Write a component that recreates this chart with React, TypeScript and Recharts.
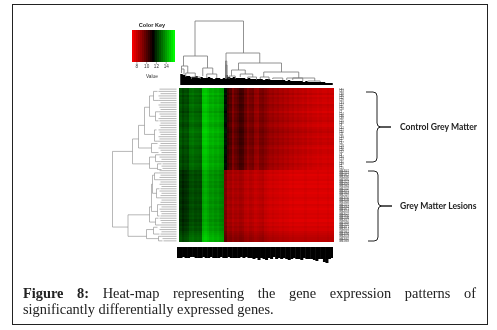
import React from "react";
import {
  Area,
  BarChart,
  Bar,
  ComposedChart,
  Line,
  Scatter,
  ScatterChart,
  XAxis,
  YAxis,
} from "recharts";

// expression per column (colour key units), control rows then lesion rows
const controlColumns = [
  12.7, 12.4, 12.6, 12.5, 13.1, 13.2, 13.0, 13.0, 12.9, 14.6, 14.7, 14.5, 14.2, 14.3, 14.1, 14.2,
  14.0, 13.9, 11.5, 10.3, 9.9, 9.1, 9.6, 9.8, 10.2, 10.1, 9.5, 9.0, 9.3, 9.4, 8.8, 8.7,
  9.2, 9.3, 9.0, 8.8, 8.6, 8.7, 8.5, 8.6, 8.4, 8.5, 8.3, 8.4, 8.2, 8.3, 8.1, 8.2,
  8.1, 8.0, 8.1, 7.9, 8.0, 7.9, 7.9, 7.8, 7.9, 7.8, 7.8, 7.9, 7.8, 7.8,
];
const lesionColumns = [
  12.2, 11.9, 12.1, 12.2, 12.6, 12.7, 12.5, 12.6, 12.5, 14.1, 14.3, 14.1, 13.8, 13.9, 13.7, 13.8,
  13.6, 13.5, 9.2, 8.5, 8.6, 8.3, 8.5, 8.4, 8.6, 8.5, 8.2, 8.1, 8.3, 8.2, 8.0, 8.1,
  8.2, 8.3, 8.0, 7.9, 7.8, 7.9, 7.8, 7.8, 7.7, 7.8, 7.7, 7.7, 7.6, 7.7, 7.6, 7.6,
  7.6, 7.6, 7.7, 7.6, 7.6, 7.6, 7.6, 7.7, 7.6, 7.6, 7.6, 7.7, 7.6, 7.6,
];
const controlRowShift = [
  0.1, 0, 0.2, -0.1, 0.1, 0, -0.1, 0.2, 0.1, 0, -0.2, 0.1, 0, 0.1, 0.2, 0, -0.1, 0.1,
  0.2, 0.3, 0.1, 0, 0.2, 0.1, 0.2, 0, -0.1, 0.1, 0.1, 0, -0.1, 0, -0.1, 0.1, 0, -0.1,
];
const lesionRowShift = [
  0, 0.1, -0.1, 0, 0.1, -0.1, 0, -0.1, 0.1, 0, -0.1, 0, 0.1, 0, -0.1, 0.1,
  0, -0.1, 0, 0.1, 0, 0.1, -0.1, 0.1, 0, 0.2, 0.1, 0.3, 0.4, 0.5, 0.6, 0.5,
];
const rowLabels = [
  "C41", "C43", "C38", "C46", "C12", "C29", "C33", "C17", "C51", "C20", "C7", "C24",
  "C36", "C48", "C15", "C30", "C9", "C42", "C27", "C54", "C11", "C39", "C22", "C5",
  "C47", "C18", "C34", "C26", "C52", "C8", "C44", "C13", "C31", "C49", "C2", "C25",
  "GM2041", "GM2113", "GM1972", "GM2086", "GM1995", "GM2127", "GM2038", "GM1964",
  "GM2102", "GM2075", "GM1983", "GM2119", "GM2056", "GM2009", "GM1948", "GM2131",
  "GM2064", "GM1977", "GM2093", "GM2022", "GM1956", "GM2108", "GM2047", "GM1989",
  "GM2125", "GM2071", "GM2014", "GM1961", "GM2098", "GM2033", "GM2082", "GM1969",
];

const keySteps = [
  7, 7.4, 7.8, 8.2, 8.6, 9, 9.4, 9.8, 10.2, 10.6, 11, 11.4, 11.8, 12.2, 12.6, 13, 13.4, 13.8, 14.2,
  14.6, 15, 15.4,
];
const keyTicks = [8, 10, 12, 14];

// [left/top child, right/bottom child, first child height, second child height, merge height]
const columnMerges = [
  [5.9, 25.3, 29, 32, 64],
  [1.3, 10.9, 19, 17, 29],
  [9, 13, 9, 11, 17],
  [10.6, 14.6, 7, 7, 11],
  [0.5, 3, 16, 12, 19],
  [2.2, 6, 8, 8, 12],
  [0.5, 1.5, 12, 10, 16],
  [4.5, 8, 6, 6, 8],
  [18.3, 31.8, 6, 22, 32],
  [18.1, 18.6, 6, 6, 24],
  [18.3, 18.7, 7, 7, 20],
  [23.3, 40.5, 15, 13, 22],
  [33.4, 47.4, 8, 7, 13],
  [42.6, 53.8, 5, 4, 7],
  [20.5, 26, 9, 11, 15],
  [24, 29, 8, 8, 11],
  [19.5, 22, 6, 6, 9],
  [27, 30.5, 6, 5, 8],
  [32, 35.5, 6, 5, 8],
  [37, 41, 6, 5, 7],
  [45, 49, 5, 4, 7],
  [51, 56, 3, 3, 4],
];
const leafMass = [
  11, 10, 9, 9, 8, 8, 9, 7, 8, 7, 7, 8, 7, 6, 7, 7, 6, 7, 10, 8, 7, 8, 7, 7, 7, 7, 6, 7, 6, 6, 6, 6,
  6, 5, 6, 6, 5, 5, 5, 5, 5, 5, 4, 5, 4, 4, 4, 4, 4, 3, 4, 3, 3, 3, 3, 3, 3, 3, 2, 2, 2, 2,
];
const rowMerges = [
  [27.5, 60.9, 44, 48.5, 64],
  [22, 33, 38, 27, 44],
  [16, 26, 32, 25, 38],
  [8, 20, 27, 22, 32],
  [3, 12, 23, 21, 27],
  [1, 5, 19, 18, 23],
  [10, 14, 18, 18, 21],
  [18, 23, 20, 19, 22],
  [24, 28, 19, 18, 25],
  [30, 35, 21, 19, 27],
  [29, 32, 16, 16, 21],
  [33, 35.5, 15, 15, 19],
  [55.5, 65, 27, 30, 48.5],
  [52, 58.7, 25, 21, 27],
  [42, 54, 24, 19, 25],
  [38, 46, 22, 20, 24],
  [37, 40, 18, 18, 22],
  [44, 48, 17, 17, 20],
  [51, 56, 17, 17, 19],
  [57, 60, 18, 17, 21],
  [62, 66, 23, 18, 30],
  [61, 64, 19, 17, 23],
  [65, 67, 15, 14, 18],
];
const rowLeafDepths = [
  17, 18, 16, 18, 17, 18, 16, 18, 17, 16, 18, 17, 16, 18, 17, 16, 17, 16, 18, 17, 16, 18, 17, 19, 16,
  17, 18, 16, 15, 16, 17, 15, 16, 14, 15, 14, 17, 18, 16, 17, 18, 16, 17, 15, 16, 17, 15, 16, 17, 15,
  16, 17, 15, 17, 16, 15, 16, 17, 16, 15, 17, 16, 17, 15, 16, 15, 14, 13,
];
// the black block under the heat map is overprinted gene names
const geneLabelLengths = [
  11, 11, 10, 11, 11, 10, 10, 11, 11, 11, 10, 11, 11, 10, 11, 11, 11, 10, 11, 11, 10, 11, 11, 11, 11,
  10, 11, 10, 11, 11, 12, 11, 13, 11, 12, 13, 11, 12, 10, 12, 11, 12, 11, 12, 13, 12, 11, 12, 12, 13,
  11, 12, 12, 12, 13, 14, 12, 12, 15, 16, 12, 11,
];

const rowShift = [...controlRowShift, ...lesionRowShift];
const heatCells = rowShift.flatMap((shift, row) => {
  const profile = row < controlRowShift.length ? controlColumns : lesionColumns;
  return profile.map((value, col) => ({ col, row, value: value + shift }));
});
const rowIndexes = rowLabels.map((_, i) => i);
const keyCells = keySteps.map((value) => ({ value: value + 0.2, y: 0.5 }));
const massData = leafMass.map((height, leaf) => ({ leaf, height }));
const geneData = geneLabelLengths.map((length, gene) => ({ gene, length }));

function keyColour(v: number) {
  if (v < 11.3) return `rgb(${Math.min(255, Math.round((255 * (11.3 - v)) / 4.3))},0,0)`;
  return `rgb(0,${Math.min(255, Math.round((255 * (v - 11.3)) / 4.4))},0)`;
}

function treeColumns(merges: number[][]) {
  return merges.flatMap(([a, b, ha, hb, h]) => [
    { leaf: a, height: ha },
    { leaf: a, height: h },
    { leaf: b, height: h },
    { leaf: b, height: hb },
    { leaf: b, height: null },
  ]);
}

function treeRows(merges: number[][]) {
  const brackets = merges.flatMap(([a, b, da, db, d]) => [
    { depth: da, row: a },
    { depth: d, row: a },
    { depth: d, row: b },
    { depth: db, row: b },
    { depth: db, row: null },
  ]);
  const leaves = rowLeafDepths.flatMap((depth, row) => [
    { depth, row },
    { depth: 0, row },
    { depth: 0, row: null },
  ]);
  return [...brackets, ...leaves];
}

const HeatCell = (props: any) => {
  const w = 155 / controlColumns.length;
  const h = 154 / rowLabels.length;
  return (
    <rect
      x={props.cx - w / 2}
      y={props.cy - h / 2}
      width={w + 0.4}
      height={h + 0.4}
      fill={keyColour(props.payload.value)}
      shapeRendering="crispEdges"
    />
  );
};

const KeyCell = (props: any) => {
  const w = 43 / keySteps.length;
  return (
    <rect
      x={props.cx - w / 2}
      y={props.cy - 16}
      width={w + 0.4}
      height={32}
      fill={keyColour(props.payload.value)}
      shapeRendering="crispEdges"
    />
  );
};

const place = (left: number, top: number): React.CSSProperties => ({
  position: "absolute",
  left,
  top,
});

const sans = "'Liberation Sans', Arial, sans-serif";

function ColorKey() {
  return (
    <>
      <div
        style={{
          ...place(112, 21.5),
          width: 80,
          textAlign: "center",
          font: `bold 5.6px ${sans}`,
          color: "#222",
        }}
      >
        Color Key
      </div>
      <div style={place(121.5, 29.5)}>
        <ScatterChart
          width={63}
          height={42}
          margin={{ top: 0, right: 10, bottom: 0, left: 10 }}
          data={keyCells}
        >
          <XAxis
            dataKey="value"
            type="number"
            domain={[7, 15.8]}
            ticks={keyTicks}
            tick={{ fontSize: 4.6, fill: "#333", fontFamily: sans }}
            tickSize={2}
            tickMargin={1}
            height={10}
            stroke="#555"
            strokeWidth={0.5}
            axisLine={false}
          />
          <YAxis dataKey="y" type="number" domain={[0, 1]} hide />
          <Scatter dataKey="y" shape={KeyCell} isAnimationActive={false} />
        </ScatterChart>
      </div>
      <div
        style={{
          ...place(112, 73.5),
          width: 80,
          textAlign: "center",
          font: `4.8px ${sans}`,
          color: "#333",
        }}
      >
        Value
      </div>
    </>
  );
}

function Brace({ d }: { d: string }) {
  return <path d={d} fill="none" stroke="#222" strokeWidth={1} />;
}

const labelStyle: React.CSSProperties = {
  font: "bold 8.6px Lato, sans-serif",
  color: "#222",
  whiteSpace: "nowrap",
};

const captionFont = "14.4px 'Liberation Serif', serif";

export default function App() {
  return (
    <div
      style={{
        position: "absolute",
        left: 0,
        top: 0,
        width: 497,
        height: 330,
        background: "#fff",
        overflow: "hidden",
      }}
    >
      <div
        style={{
          ...place(12, 4),
          width: 474,
          height: 319,
          border: "1.3px solid #222",
        }}
      />

      <div style={{ ...place(0, 0), filter: "blur(0.4px)" }}>
        <ColorKey />

        <div style={place(178.5, 19)}>
          <ComposedChart width={155} height={66} margin={{ top: 2, right: 0, bottom: 0, left: 0 }}>
            <XAxis dataKey="leaf" type="number" domain={[-0.5, 61.5]} hide />
            <YAxis type="number" domain={[0, 64]} hide />
            <Area
              data={massData}
              dataKey="height"
              type="stepAfter"
              stroke="none"
              fill="#000"
              fillOpacity={1}
              isAnimationActive={false}
            />
            <Line
              data={treeColumns(columnMerges)}
              dataKey="height"
              stroke="#777"
              strokeWidth={0.8}
              dot={false}
              connectNulls={false}
              isAnimationActive={false}
            />
          </ComposedChart>
        </div>

        <div style={place(110, 87.5)}>
          <ComposedChart
            width={66.5}
            height={154}
            margin={{ top: 0, right: 0, bottom: 0, left: 0 }}
            data={treeRows(rowMerges)}
          >
            <XAxis dataKey="depth" type="number" domain={[0, 66.5]} reversed hide />
            <YAxis type="number" domain={[-0.5, 67.5]} reversed hide />
            <Line
              dataKey="row"
              stroke="#888"
              strokeWidth={0.6}
              dot={false}
              connectNulls={false}
              isAnimationActive={false}
            />
          </ComposedChart>
        </div>

        <div style={place(178.5, 87.5)}>
          <ScatterChart
            width={180}
            height={154}
            margin={{ top: 0, right: 0, bottom: 0, left: 0 }}
            data={heatCells}
          >
            <XAxis dataKey="col" type="number" domain={[-0.5, 61.5]} hide />
            <YAxis
              dataKey="row"
              type="number"
              domain={[-0.5, 67.5]}
              reversed
              orientation="right"
              width={25}
              ticks={rowIndexes}
              interval={0}
              tickFormatter={(i: number) => rowLabels[i]}
              tick={{ fontSize: 2.6, fill: "#222", textAnchor: "start", fontFamily: sans }}
              tickLine={false}
              axisLine={false}
              tickSize={5}
              tickMargin={0}
            />
            <Scatter dataKey="row" shape={HeatCell} isAnimationActive={false} />
          </ScatterChart>
        </div>

        <div style={place(177, 247)}>
          <BarChart
            width={156}
            height={18}
            margin={{ top: 0, right: 0, bottom: 0, left: 0 }}
            data={geneData}
            barCategoryGap={0}
          >
            <XAxis dataKey="gene" hide />
            <YAxis type="number" domain={[0, 18]} reversed hide />
            <Bar dataKey="length" fill="#000" isAnimationActive={false} />
          </BarChart>
        </div>
      </div>

      <svg width={497} height={330} style={place(0, 0)}>
        <Brace d="M366 92 H373 Q377 92 377 96 V123 Q377 127 381 127 H391 H381 Q377 127 377 131 V158 Q377 162 373 162 H366" />
        <Brace d="M368 171 H374 Q378 171 378 175 V202 Q378 206 382 206 H392 H382 Q378 206 378 210 V237 Q378 241 374 241 H368" />
      </svg>

      <div style={{ ...place(400, 122), ...labelStyle }}>Control Grey Matter</div>
      <div style={{ ...place(400, 201), ...labelStyle }}>Grey Matter Lesions</div>

      <div
        style={{
          ...place(23, 284.5),
          width: 453,
          font: captionFont,
          color: "#222",
          textAlign: "justify",
          textAlignLast: "justify",
        }}
      >
        <b>Figure 8:</b> Heat-map representing the gene expression patterns of
      </div>
      <div
        style={{
          ...place(23, 300.5),
          font: captionFont,
          color: "#222",
          whiteSpace: "nowrap",
        }}
      >
        significantly differentially expressed genes.
      </div>
    </div>
  );
}
